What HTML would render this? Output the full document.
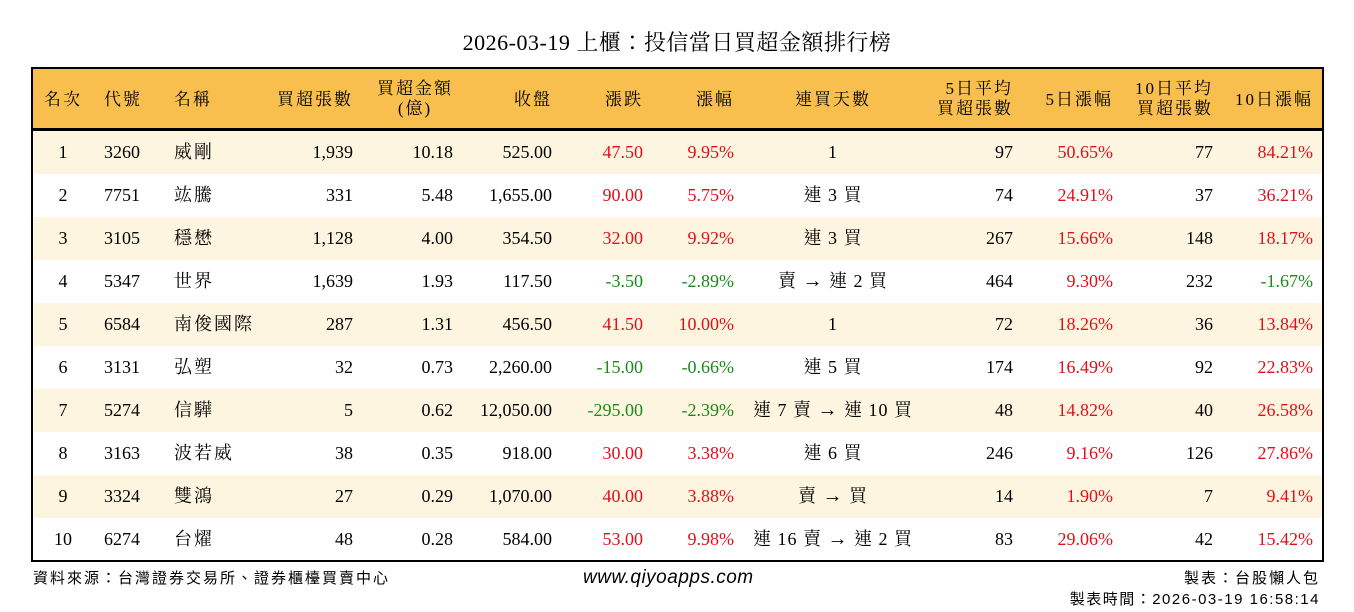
<!DOCTYPE html>
<html><head><meta charset="utf-8"><style>
*{margin:0;padding:0;box-sizing:border-box}
body{width:1354px;height:612px;background:#fff;position:relative;overflow:hidden;font-family:"Liberation Serif","Noto Serif CJK TC","Noto Serif CJK SC",serif;color:#000}
.title{position:absolute;top:29px;left:0;width:1354px;text-align:center;font-size:22px;line-height:28px;letter-spacing:0.5px}
.tbl{position:absolute;left:31px;top:67px;width:1293px;height:495px;border:2px solid #000}
.hd{position:absolute;left:0;top:0;width:1289px;height:62px;background:#F8BF4E;border-bottom:3px solid #000}
.r{position:absolute;left:0;width:1289px;height:43px;font-size:18px}
.r.o{background:#FEF5E0}
.r span,.hd span{position:absolute;top:0;line-height:43px;white-space:nowrap}
.hd span{line-height:62px;font-size:17px;letter-spacing:2px}
.hd span.two{line-height:20px;top:10px;text-align:center}
.c1{left:0;width:60px;text-align:center}
.c2{left:71px}
.c3{left:141px;letter-spacing:2px}
.c4{right:969px;text-align:right}
.c5{right:869px;text-align:right}
.c6{right:770px;text-align:right}
.c7{right:679px;text-align:right}
.c8{right:588px;text-align:right}
.c9{left:710px;width:180px;text-align:center;letter-spacing:1px}
.c9 b{font-weight:normal;font-size:20px}
.c10{right:309px;text-align:right}
.c11{right:209px;text-align:right}
.c12{right:109px;text-align:right}
.c13{right:9px;text-align:right}
.red{color:#E0101A}.grn{color:#1A8A1A}
.ft{position:absolute;font-family:"Liberation Sans","Noto Sans CJK TC",sans-serif;font-size:15px;letter-spacing:2px}
</style></head><body>
<div class="title">2026-03-19 上櫃：投信當日買超金額排行榜</div>
<div class="tbl">
<div class="hd">
<span class="c1">名次</span><span class="c2">代號</span><span class="c3">名稱</span><span class="c4">買超張數</span>
<span class="c5 two">買超金額<br>(億)</span><span class="c6">收盤</span><span class="c7">漲跌</span><span class="c8">漲幅</span>
<span class="c9">連買天數</span><span class="c10 two" style="text-align:right">5日平均<br>買超張數</span><span class="c11">5日漲幅</span>
<span class="c12 two" style="text-align:right">10日平均<br>買超張數</span><span class="c13">10日漲幅</span>
</div>
<div class="r o" style="top:62px"><span class="c1">1</span><span class="c2">3260</span><span class="c3">威剛</span><span class="c4">1,939</span><span class="c5">10.18</span><span class="c6">525.00</span><span class="c7 red">47.50</span><span class="c8 red">9.95%</span><span class="c9">1</span><span class="c10">97</span><span class="c11 red">50.65%</span><span class="c12">77</span><span class="c13 red">84.21%</span></div>
<div class="r" style="top:105px"><span class="c1">2</span><span class="c2">7751</span><span class="c3">竑騰</span><span class="c4">331</span><span class="c5">5.48</span><span class="c6">1,655.00</span><span class="c7 red">90.00</span><span class="c8 red">5.75%</span><span class="c9">連 3 買</span><span class="c10">74</span><span class="c11 red">24.91%</span><span class="c12">37</span><span class="c13 red">36.21%</span></div>
<div class="r o" style="top:148px"><span class="c1">3</span><span class="c2">3105</span><span class="c3">穩懋</span><span class="c4">1,128</span><span class="c5">4.00</span><span class="c6">354.50</span><span class="c7 red">32.00</span><span class="c8 red">9.92%</span><span class="c9">連 3 買</span><span class="c10">267</span><span class="c11 red">15.66%</span><span class="c12">148</span><span class="c13 red">18.17%</span></div>
<div class="r" style="top:191px"><span class="c1">4</span><span class="c2">5347</span><span class="c3">世界</span><span class="c4">1,639</span><span class="c5">1.93</span><span class="c6">117.50</span><span class="c7 grn">-3.50</span><span class="c8 grn">-2.89%</span><span class="c9">賣 <b>→</b> 連 2 買</span><span class="c10">464</span><span class="c11 red">9.30%</span><span class="c12">232</span><span class="c13 grn">-1.67%</span></div>
<div class="r o" style="top:234px"><span class="c1">5</span><span class="c2">6584</span><span class="c3">南俊國際</span><span class="c4">287</span><span class="c5">1.31</span><span class="c6">456.50</span><span class="c7 red">41.50</span><span class="c8 red">10.00%</span><span class="c9">1</span><span class="c10">72</span><span class="c11 red">18.26%</span><span class="c12">36</span><span class="c13 red">13.84%</span></div>
<div class="r" style="top:277px"><span class="c1">6</span><span class="c2">3131</span><span class="c3">弘塑</span><span class="c4">32</span><span class="c5">0.73</span><span class="c6">2,260.00</span><span class="c7 grn">-15.00</span><span class="c8 grn">-0.66%</span><span class="c9">連 5 買</span><span class="c10">174</span><span class="c11 red">16.49%</span><span class="c12">92</span><span class="c13 red">22.83%</span></div>
<div class="r o" style="top:320px"><span class="c1">7</span><span class="c2">5274</span><span class="c3">信驊</span><span class="c4">5</span><span class="c5">0.62</span><span class="c6">12,050.00</span><span class="c7 grn">-295.00</span><span class="c8 grn">-2.39%</span><span class="c9">連 7 賣 <b>→</b> 連 10 買</span><span class="c10">48</span><span class="c11 red">14.82%</span><span class="c12">40</span><span class="c13 red">26.58%</span></div>
<div class="r" style="top:363px"><span class="c1">8</span><span class="c2">3163</span><span class="c3">波若威</span><span class="c4">38</span><span class="c5">0.35</span><span class="c6">918.00</span><span class="c7 red">30.00</span><span class="c8 red">3.38%</span><span class="c9">連 6 買</span><span class="c10">246</span><span class="c11 red">9.16%</span><span class="c12">126</span><span class="c13 red">27.86%</span></div>
<div class="r o" style="top:406px"><span class="c1">9</span><span class="c2">3324</span><span class="c3">雙鴻</span><span class="c4">27</span><span class="c5">0.29</span><span class="c6">1,070.00</span><span class="c7 red">40.00</span><span class="c8 red">3.88%</span><span class="c9">賣 <b>→</b> 買</span><span class="c10">14</span><span class="c11 red">1.90%</span><span class="c12">7</span><span class="c13 red">9.41%</span></div>
<div class="r" style="top:449px"><span class="c1">10</span><span class="c2">6274</span><span class="c3">台燿</span><span class="c4">48</span><span class="c5">0.28</span><span class="c6">584.00</span><span class="c7 red">53.00</span><span class="c8 red">9.98%</span><span class="c9">連 16 賣 <b>→</b> 連 2 買</span><span class="c10">83</span><span class="c11 red">29.06%</span><span class="c12">42</span><span class="c13 red">15.42%</span></div>
</div>
<div class="ft" style="left:33px;top:567px">資料來源：台灣證券交易所、證券櫃檯買賣中心</div>
<div class="ft" style="left:583px;top:567px;font-size:19px;font-style:italic;letter-spacing:0.5px">www.qiyoapps.com</div>
<div class="ft" style="right:34px;top:567px">製表：台股懶人包</div>
<div class="ft" style="right:34px;top:588px;letter-spacing:1.5px">製表時間：2026-03-19 16:58:14</div>
</body></html>
